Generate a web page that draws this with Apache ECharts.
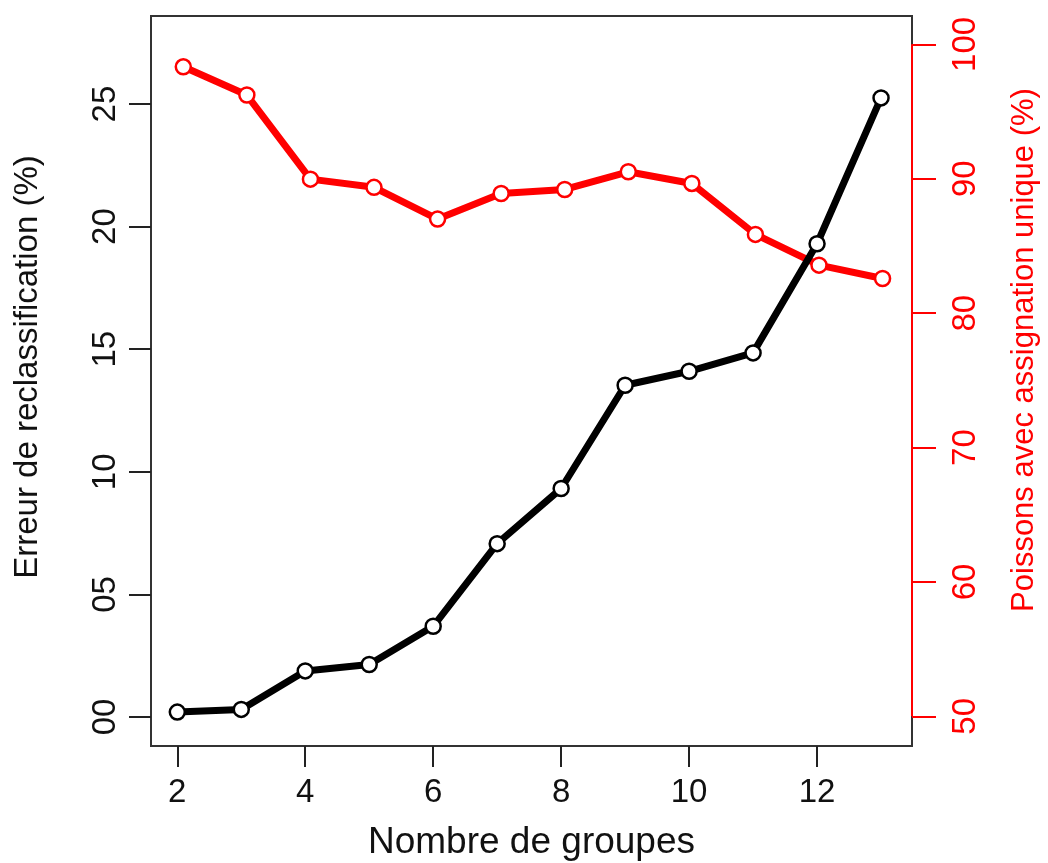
<!DOCTYPE html>
<html>
<head>
<meta charset="utf-8">
<script src="https://cdn.jsdelivr.net/npm/echarts@6/dist/echarts.min.js"></script>
<style>
html,body{margin:0;padding:0;background:#fff;}
#chart{width:1048px;height:863px;}
</style>
</head>
<body>
<div id="chart"></div>
<script>
const groupes = [2, 3, 4, 5, 6, 7, 8, 9, 10, 11, 12, 13];
const erreurReclassification = [0.20, 0.31, 1.88, 2.14, 3.70, 7.07, 9.32, 13.53, 14.10, 14.85, 19.30, 25.25];
const assignationUnique = [98.33, 96.23, 89.97, 89.36, 87.0, 88.9, 89.2, 90.52, 89.65, 85.86, 83.57, 82.58];
const xTicks = [2, 4, 6, 8, 10, 12];
const leftTicks = [0, 5, 10, 15, 20, 25];
const rightTicks = [50, 60, 70, 80, 90, 100];

const FONT = "'Liberation Sans', Arial, sans-serif";
const X2MAX = 13.463;

const chart = echarts.init(document.getElementById('chart'), null, {renderer: 'canvas'});
chart.setOption({
  backgroundColor: '#ffffff',
  animation: false,
  grid: {left: 151, top: 16, right: 136, bottom: 117, show: true, borderColor: '#333', borderWidth: 2,
    backgroundColor: 'transparent', containLabel: false, outerBoundsMode: 'none'},
  xAxis: [{
    type: 'value', min: 1.589, max: 13.484,
    name: 'Nombre de groupes', nameLocation: 'middle', nameGap: 78,
    nameTextStyle: {fontFamily: FONT, fontSize: 37, color: '#111'},
    axisLine: {show: false, onZero: false},
    axisTick: {show: true, inside: false, customValues: xTicks, length: 21, lineStyle: {color: '#222', width: 2}},
    axisLabel: {customValues: xTicks, fontFamily: FONT, fontSize: 33, color: '#111', margin: 30},
    splitLine: {show: false}
  }, {
    type: 'value', min: 1.492, max: X2MAX, show: false, axisLine: {onZero: false}
  }],
  yAxis: [{
    type: 'value', min: -1.183, max: 28.59, position: 'left',
    name: 'Erreur de reclassification (%)', nameLocation: 'middle', nameGap: 107, nameRotate: 90,
    nameTextStyle: {fontFamily: FONT, fontSize: 33, color: '#111', padding: [0, 0, 0, 28]},
    axisLine: {show: false, onZero: false},
    axisTick: {show: true, inside: false, customValues: leftTicks, length: 22, lineStyle: {color: '#222', width: 2}},
    axisLabel: {customValues: leftTicks, rotate: 90, fontFamily: FONT, fontSize: 33, color: '#111', margin: 29,
      formatter: v => String(v).padStart(2, '0')},
    splitLine: {show: false}
  }, {
    type: 'value', min: 47.79, max: 102.11, position: 'right',
    name: 'Poissons avec assignation unique (%)', nameLocation: 'middle', nameGap: 97, nameRotate: 90,
    nameTextStyle: {fontFamily: FONT, fontSize: 31, color: '#ff0000', padding: [0, 0, 0, 62]},
    axisLine: {show: false, onZero: false},
    axisTick: {show: true, inside: false, customValues: rightTicks, length: 24, lineStyle: {color: '#ff0000', width: 2}},
    axisLabel: {customValues: rightTicks, rotate: 90, fontFamily: FONT, fontSize: 33, color: '#ff0000', margin: 37},
    splitLine: {show: false}
  }],
  series: [{
    type: 'line', xAxisIndex: 1, yAxisIndex: 1, z: 2,
    data: groupes.map((g, i) => [g, assignationUnique[i]]),
    lineStyle: {color: '#ff0000', width: 7},
    itemStyle: {color: '#fff', borderColor: '#ff0000', borderWidth: 2.5},
    symbol: 'circle', symbolSize: 15, showAllSymbols: true,
    markLine: {
      silent: true, symbol: ['none', 'none'], label: {show: false},
      lineStyle: {color: '#ff0000', width: 2, type: 'solid'},
      data: [[{coord: [X2MAX, rightTicks[0]]}, {coord: [X2MAX, rightTicks[rightTicks.length - 1]]}]]
    }
  }, {
    type: 'line', xAxisIndex: 0, yAxisIndex: 0, z: 3,
    data: groupes.map((g, i) => [g, erreurReclassification[i]]),
    lineStyle: {color: '#000', width: 7},
    itemStyle: {color: '#fff', borderColor: '#000', borderWidth: 2.5},
    symbol: 'circle', symbolSize: 15, showAllSymbols: true
  }]
});
</script>
</body>
</html>
